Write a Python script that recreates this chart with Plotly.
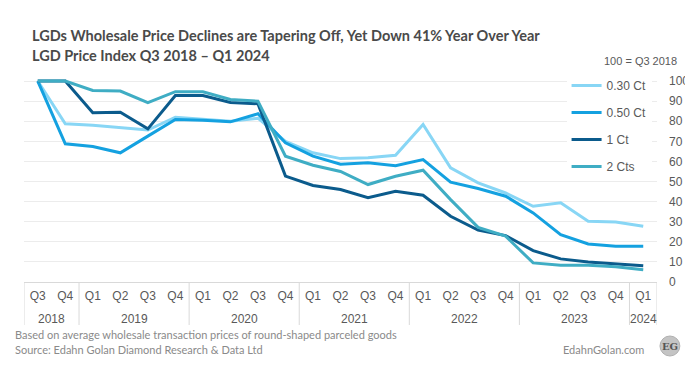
import plotly.graph_objects as go

years = ["2018", "2018",
         "2019", "2019", "2019", "2019",
         "2020", "2020", "2020", "2020",
         "2021", "2021", "2021", "2021",
         "2022", "2022", "2022", "2022",
         "2023", "2023", "2023", "2023",
         "2024"]
quarters = ["Q3", "Q4",
            "Q1", "Q2", "Q3", "Q4",
            "Q1", "Q2", "Q3", "Q4",
            "Q1", "Q2", "Q3", "Q4",
            "Q1", "Q2", "Q3", "Q4",
            "Q1", "Q2", "Q3", "Q4",
            "Q1"]

ct030 = [100, 78.7, 78.0, 76.7, 75.6, 82.0, 80.9, 80.0, 81.5, 70.0, 64.3, 61.4,
         61.8, 63.1, 78.4, 56.8, 49.3, 44.3, 37.7, 39.4, 30.2, 29.9, 27.7]
ct050 = [100, 68.8, 67.4, 64.3, 72.6, 80.9, 80.5, 79.7, 83.7, 69.3, 62.6, 58.6,
         59.3, 57.9, 60.9, 49.7, 46.5, 42.7, 34.4, 23.6, 18.9, 17.8, 17.8]
ct1 = [100, 100, 84.2, 84.5, 76.2, 92.8, 92.8, 89.3, 88.7, 52.7, 48.0, 46.0,
       41.9, 45.2, 43.2, 32.7, 25.8, 23.1, 15.6, 11.5, 10.0, 9.0, 8.1]
ct2 = [100, 100, 95.3, 95.0, 89.2, 94.7, 94.7, 90.8, 90.0, 62.6, 58.1, 55.0,
       48.5, 52.6, 55.6, 41.0, 27.2, 22.8, 9.5, 8.3, 8.3, 7.6, 6.1]

series = [("0.30 Ct", ct030, "#88d6f5"),
          ("0.50 Ct", ct050, "#14a1e0"),
          ("1 Ct", ct1, "#0b5b8c"),
          ("2 Cts", ct2, "#3fadc4")]

yticks = list(range(0, 101, 10))

# pixel geometry helpers (plot area: x 16..653, y 63..274)
L, R, T, B = 16, 653, 63, 274
W, H = 693, 367


def px(p):
    return (p - L) / (R - L)


def py(p):
    return (B - p) / (B - T)


idx = list(range(len(quarters)))

fig = go.Figure()
for i, (name, vals, col) in enumerate(series):
    fig.add_trace(go.Scatter(
        x=idx, y=vals, name=name, mode="lines",
        line=dict(color=col, width=3), legendgroup=f"g{i}"))

tick_font = dict(family="Liberation Sans, Arial, sans-serif", size=12, color="#595959")
note_font = dict(family="Lato, sans-serif", size=11, color="#8a8a8a")
title_font = dict(family="Lato, sans-serif", size=14.5, color="#4a4a4a", weight="bold")

fig.update_layout(
    width=W, height=H,
    margin=dict(l=L, r=W - R, t=T, b=H - B),
    paper_bgcolor="white", plot_bgcolor="white",
    showlegend=True,
    legend=dict(x=px(562), y=py(63), xanchor="left", yanchor="top",
                bgcolor="white", font=dict(family="Liberation Sans, Arial, sans-serif",
                                           size=12, color="#595959"),
                tracegroupgap=8, itemwidth=30, borderwidth=0),
    xaxis=dict(range=[-0.5, len(quarters) - 0.5], showgrid=False, zeroline=False,
               showline=True, linecolor="#d9d9d9", linewidth=1,
               tickvals=idx, ticktext=quarters, ticks="", ticklabelstandoff=3,
               tickfont=tick_font),
    yaxis=dict(side="right", range=[0, 105], tickvals=yticks,
               showgrid=True, gridcolor="#ececec", gridwidth=1, zeroline=False,
               ticks="", ticklabelstandoff=11, tickfont=tick_font),
)

# year groups: labels and dividers derived from the years array
groups = []
for i, yv in enumerate(years):
    if groups and groups[-1][0] == yv:
        groups[-1][2] = i
    else:
        groups.append([yv, i, i])

div_y0 = 0
div_y1 = py(317)
bounds = sorted({g[1] - 0.5 for g in groups} | {groups[-1][2] + 0.5})
for bx in bounds:
    fig.add_shape(type="line", xref="x", yref="paper", x0=bx, x1=bx,
                  y0=div_y0, y1=div_y1, line=dict(color="#d9d9d9", width=1))
for yv, i0, i1 in groups:
    fig.add_annotation(xref="x", yref="paper", x=(i0 + i1) / 2, y=py(311),
                       text=yv, showarrow=False, xanchor="center", yanchor="middle",
                       font=tick_font)

anns = [
    dict(text="LGDs Wholesale Price Declines are Tapering Off, Yet Down 41% Year Over Year",
         x=px(22), y=py(28), font=title_font),
    dict(text="LGD Price Index Q3 2018 \u2013 Q1 2024",
         x=px(22), y=py(47), font=title_font),
    dict(text="100 = Q3 2018", x=px(598), y=py(53),
         font=dict(family="Liberation Sans, Arial, sans-serif", size=11, color="#595959")),
    dict(text="Based on average wholesale transaction prices of round-shaped parceled goods",
         x=px(5), y=py(326), font=note_font),
    dict(text="Source: Edahn Golan Diamond Research & Data Ltd",
         x=px(5), y=py(341), font=note_font),
    dict(text="EdahnGolan.com", x=px(556), y=py(341), font=note_font),
]
for a in anns:
    fig.add_annotation(xref="paper", yref="paper", xanchor="left", yanchor="middle",
                       showarrow=False, **a)

fig.add_shape(type="circle", xref="paper", yref="paper",
              x0=px(656), x1=px(676), y0=py(328), y1=py(348),
              fillcolor="#c4c4c4", line=dict(color="#b0b0b0", width=1))
fig.add_annotation(xref="paper", yref="paper", x=px(666), y=py(338), text="<b>EG</b>",
                   showarrow=False, xanchor="center", yanchor="middle",
                   font=dict(family="DejaVu Serif, serif", size=10, color="#555555"))

fig.write_html("out.html")
